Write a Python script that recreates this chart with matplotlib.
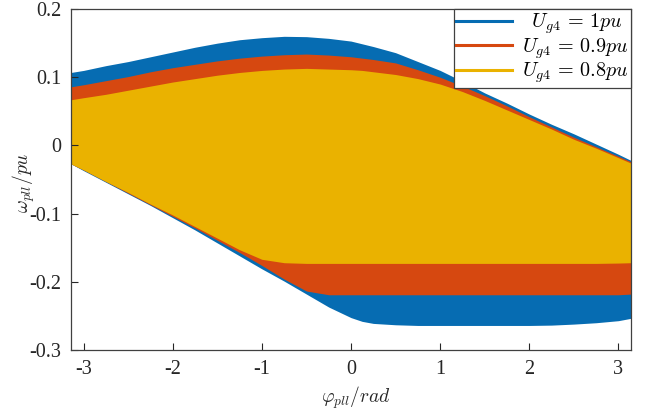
import numpy as np
import matplotlib
matplotlib.use("Agg")
import matplotlib.pyplot as plt

plt.rcParams['font.family'] = ['Liberation Serif', 'DejaVu Serif']
plt.rcParams['mathtext.fontset'] = 'cm'
plt.rcParams['axes.unicode_minus'] = False

# phase angle samples (rad)
phi = [-np.pi, -3.0, -2.75, -2.5, -2.25, -2.0, -1.75, -1.5, -1.25, -1.0, -0.75, -0.5, -0.25,
       0.0, 0.125, 0.25, 0.5, 0.75, 1.0, 1.25, 1.5, 1.75, 2.0, 2.25, 2.5, 2.75, 3.0, np.pi]

# upper / lower envelopes of omega_pll for each grid voltage
w_top_10 = [0.107, 0.110, 0.117, 0.123, 0.130, 0.137, 0.144, 0.150, 0.155, 0.158, 0.160, 0.1595, 0.157,
            0.153, 0.149, 0.145, 0.136, 0.123, 0.110, 0.094, 0.077, 0.062, 0.046, 0.031, 0.017, 0.002, -0.013, -0.022]
w_bot_10 = [-0.027, -0.037, -0.054, -0.071, -0.088, -0.106, -0.124, -0.143, -0.162, -0.181, -0.199, -0.218, -0.237,
            -0.2525, -0.258, -0.261, -0.263, -0.264, -0.264, -0.264, -0.264, -0.264, -0.264, -0.2635, -0.262, -0.260, -0.257, -0.2535]

w_top_09 = [0.086, 0.089, 0.095, 0.101, 0.108, 0.114, 0.119, 0.124, 0.128, 0.131, 0.133, 0.134, 0.1325,
            0.130, 0.128, 0.126, 0.121, 0.111, 0.100, 0.087, 0.073, 0.058, 0.042, 0.027, 0.012, -0.002, -0.016, -0.024]
w_bot_09 = [-0.027, -0.036, -0.053, -0.070, -0.087, -0.104, -0.121, -0.139, -0.157, -0.176, -0.196, -0.2135, -0.219,
            -0.219, -0.219, -0.219, -0.219, -0.219, -0.219, -0.219, -0.219, -0.219, -0.219, -0.219, -0.219, -0.219, -0.219, -0.218]

w_top_08 = [0.067, 0.070, 0.075, 0.081, 0.087, 0.093, 0.098, 0.103, 0.107, 0.110, 0.112, 0.113, 0.112,
            0.111, 0.110, 0.108, 0.104, 0.098, 0.090, 0.079, 0.066, 0.052, 0.038, 0.024, 0.009, -0.004, -0.018, -0.026]
w_bot_08 = [-0.027, -0.036, -0.053, -0.069, -0.086, -0.102, -0.119, -0.136, -0.153, -0.167, -0.172, -0.173, -0.173,
            -0.173, -0.173, -0.173, -0.173, -0.173, -0.173, -0.173, -0.173, -0.173, -0.173, -0.173, -0.173, -0.173, -0.1725, -0.172]

labels = [r'$\;\;U_{g4}\,=\,1pu$', r'$U_{g4}\,=\,0.9pu$', r'$U_{g4}\,=\,0.8pu$']
colors = ['#066CB2', '#D64810', '#EAB200']

xticks = [-3, -2, -1, 0, 1, 2, 3]
yticks = [-0.3, -0.2, -0.1, 0, 0.1, 0.2]
ytick_labels = ['-0.3', '-0.2', '-0.1', '0', '0.1', '0.2']

fig = plt.figure(figsize=(6.55, 4.11), dpi=100)
ax = fig.add_axes([0.1084, 0.1484, 0.855, 0.8296])

envelopes = [(w_top_10, w_bot_10), (w_top_09, w_bot_09), (w_top_08, w_bot_08)]
for (top, bot), c, lab in zip(envelopes, colors, labels):
    ax.fill_between(phi, bot, top, color=c, linewidth=0)
    ax.plot([], [], color=c, linewidth=2.2, label=lab)

ax.set_xlim(-np.pi, np.pi)
ax.set_ylim(-0.3, 0.2)
ax.set_xticks(xticks)
ax.set_xticklabels([str(t) for t in xticks])
ax.set_yticks(yticks)
ax.set_yticklabels(ytick_labels)
ax.tick_params(direction='in', length=5, width=0.8, labelsize=14.5,
               colors='#262626', pad=7)

for s in ax.spines.values():
    s.set_color('#404040')
    s.set_linewidth(0.9)

ax.set_xlabel(r'$\varphi_{pll}/rad$', fontsize=14, color='#262626')
ax.xaxis.set_label_coords(0.509, -0.1)
ax.set_ylabel(r'$\omega_{pll}/pu$', fontsize=14, color='#262626')
ax.yaxis.set_label_coords(-0.061, 0.49)

leg = ax.legend(loc='upper right', borderaxespad=0, fancybox=False,
                framealpha=1, edgecolor='#404040', fontsize=14.5,
                handlelength=2.8, handletextpad=0.5, labelspacing=0.0,
                borderpad=0.12)
leg.get_frame().set_linewidth(0.9)

fig.savefig('out.png', dpi=100)
